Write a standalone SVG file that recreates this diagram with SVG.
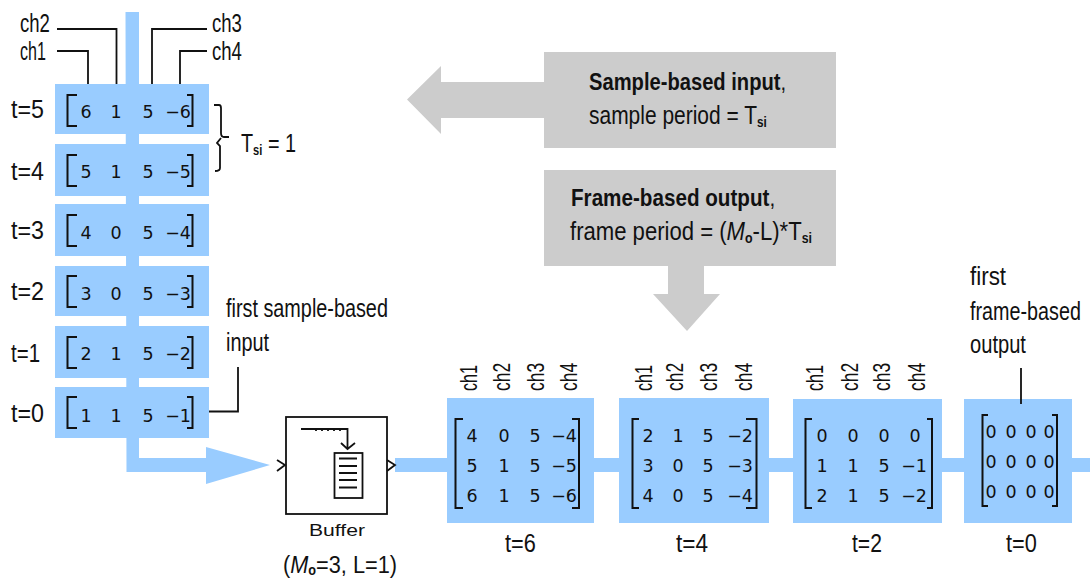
<svg xmlns="http://www.w3.org/2000/svg" width="1090" height="578" viewBox="0 0 1090 578">
<style>
.blue{fill:#99ccff}
.grey{fill:#cccccc}
.ln{fill:none;stroke:#111;stroke-width:1.8}
.br{fill:none;stroke:#111;stroke-width:2}
text{font-family:"Liberation Sans",Arial,sans-serif;fill:#111;font-size:25px}
.n{font-family:"DejaVu Sans",sans-serif;font-size:17.500px;text-anchor:middle}
.e{font-family:"DejaVu Sans",sans-serif;font-size:17.500px;text-anchor:end}
.b{font-size:23px;font-weight:bold}
.sub{font-size:14px;font-weight:bold}
.r{font-size:23px}
</style>
<g id="connectors">
<path class="blue" d="M125.500 12H139V458H206V447L270 465L206 484V472H126.500Z"/>
<rect class="blue" x="395" y="458" width="695" height="14"/>
<path class="grey" d="M544 82H441V66L407 99.500L441 134V118H544Z"/>
<path class="grey" d="M668 266V294H653L687 331L720 294H704V266Z"/>
<path class="ln" d="M57 29H116.500V85M57 51H88V85M207 29H152V85M207 51H180V85"/>
<path class="ln" d="M238 367V411.500H209M1021 368V404"/>
<path class="ln" d="M214 105H219Q221 105 221 108V133Q221 137 224 137H229M221 138L217 143L220 146V168Q220 171 215 171"/>
</g>
<g id="row-t5"><rect class="blue" x="55" y="84" width="154" height="50"/><path class="br" d="M77 95H67.500V126H77M187 95H192.500V126H187"/><text class="n" x="86" y="118">6</text><text class="n" x="116" y="118">1</text><text class="n" x="148" y="118">5</text><text class="e" x="191" y="118">−6</text><text transform="translate(11 118) scale(.88 1)" textLength="37.500" lengthAdjust="spacingAndGlyphs">t=5</text></g>
<g id="row-t4"><rect class="blue" x="55" y="144" width="154" height="52"/><path class="br" d="M77 155H67.500V186H77M187 155H192.500V186H187"/><text class="n" x="86" y="178">5</text><text class="n" x="116" y="178">1</text><text class="n" x="148" y="178">5</text><text class="e" x="191" y="178">−5</text><text transform="translate(11 180) scale(.88 1)" textLength="37.500" lengthAdjust="spacingAndGlyphs">t=4</text></g>
<g id="row-t3"><rect class="blue" x="55" y="204" width="154" height="52"/><path class="br" d="M77 215H67.500V246H77M187 215H192.500V246H187"/><text class="n" x="86" y="239">4</text><text class="n" x="116" y="239">0</text><text class="n" x="148" y="239">5</text><text class="e" x="191" y="239">−4</text><text transform="translate(11 239) scale(.88 1)" textLength="37.500" lengthAdjust="spacingAndGlyphs">t=3</text></g>
<g id="row-t2"><rect class="blue" x="55" y="266" width="154" height="50"/><path class="br" d="M77 276H67.500V307H77M187 276H192.500V307H187"/><text class="n" x="86" y="300">3</text><text class="n" x="116" y="300">0</text><text class="n" x="148" y="300">5</text><text class="e" x="191" y="300">−3</text><text transform="translate(11 300) scale(.88 1)" textLength="37.500" lengthAdjust="spacingAndGlyphs">t=2</text></g>
<g id="row-t1"><rect class="blue" x="55" y="326" width="154" height="52"/><path class="br" d="M77 337H67.500V368H77M187 337H192.500V368H187"/><text class="n" x="86" y="360">2</text><text class="n" x="116" y="360">1</text><text class="n" x="148" y="360">5</text><text class="e" x="191" y="360">−2</text><text transform="translate(11 362) scale(.88 1)" textLength="33" lengthAdjust="spacingAndGlyphs">t=1</text></g>
<g id="row-t0"><rect class="blue" x="55" y="387" width="154" height="51"/><path class="br" d="M77 397H67.500V428H77M187 397H192.500V428H187"/><text class="n" x="86" y="422">1</text><text class="n" x="116" y="422">1</text><text class="n" x="148" y="422">5</text><text class="e" x="191" y="422">−1</text><text transform="translate(11 422) scale(.88 1)" textLength="37.500" lengthAdjust="spacingAndGlyphs">t=0</text></g>
<g id="labels">
<text transform="translate(20 32) scale(.88 1)" textLength="34" lengthAdjust="spacingAndGlyphs">ch2</text>
<text transform="translate(20 60) scale(.88 1)" textLength="29.500" lengthAdjust="spacingAndGlyphs">ch1</text>
<text transform="translate(212 32) scale(.88 1)" textLength="34" lengthAdjust="spacingAndGlyphs">ch3</text>
<text transform="translate(212 60) scale(.88 1)" textLength="34" lengthAdjust="spacingAndGlyphs">ch4</text>
<text transform="translate(241 152) scale(.88 1)" textLength="62.500" lengthAdjust="spacingAndGlyphs">T<tspan class="sub" dy="3">si</tspan><tspan dy="-3"> = 1</tspan></text>
<text transform="translate(226 317) scale(.88 1)" textLength="184" lengthAdjust="spacingAndGlyphs">first sample-based</text>
<text transform="translate(226 351) scale(.88 1)" textLength="49" lengthAdjust="spacingAndGlyphs">input</text>
<text transform="translate(970 285) scale(.88 1)" textLength="41" lengthAdjust="spacingAndGlyphs">first</text>
<text transform="translate(970 320) scale(.88 1)" textLength="126" lengthAdjust="spacingAndGlyphs">frame-based</text>
<text transform="translate(970 353) scale(.88 1)" textLength="63.600" lengthAdjust="spacingAndGlyphs">output</text>
</g>
<g id="buffer">
<rect x="286" y="417" width="101" height="97" fill="#fff" stroke="#111" stroke-width="1.800"/>
<path class="ln" d="M277 460L285 465L277 471M387 460L395 465L387 471"/>
<path class="ln" d="M301 429H347.500V449M341 443L347.500 449L355 443"/>
<path class="ln" d="M316 429V431M322 429V431M328 429V431M334 429V431M340 429V431"/>
<rect x="334.500" y="453" width="28" height="45" fill="#fff" stroke="#111" stroke-width="1.800"/>
<path class="ln" d="M339 458.500H357M339 466H357M339 473H357M339 480H357M339 487.500H357"/>
<text x="309" y="536" style="font-size:16px" textLength="56" lengthAdjust="spacingAndGlyphs">Buffer</text>
<text transform="translate(283 573) scale(.88 1)" style="font-size:24px" textLength="129.500" lengthAdjust="spacingAndGlyphs">(<tspan font-style="italic">M</tspan><tspan class="sub" dy="2">o</tspan><tspan dy="-2">=3, L=1)</tspan></text>
</g>
<g id="note-sample">
<rect class="grey" x="544" y="52" width="292" height="96"/>
<text class="b" transform="translate(589 90) scale(.88 1)" textLength="224" lengthAdjust="spacingAndGlyphs">Sample-based input<tspan font-weight="normal">,</tspan></text>
<text transform="translate(589 124) scale(.88 1)" textLength="202" lengthAdjust="spacingAndGlyphs">sample period = T<tspan class="sub" dy="3">si</tspan></text>
</g>
<g id="note-frame">
<rect class="grey" x="544" y="170" width="292" height="96"/>
<text class="b" transform="translate(571 206) scale(.88 1)" textLength="232" lengthAdjust="spacingAndGlyphs">Frame-based output<tspan font-weight="normal">,</tspan></text>
<text transform="translate(570 240) scale(.88 1)" textLength="275" lengthAdjust="spacingAndGlyphs">frame period = (<tspan font-style="italic">M</tspan><tspan class="sub" dy="3">o</tspan><tspan dy="-3">-L)*T</tspan><tspan class="sub" dy="3">si</tspan></text>
</g>
<g id="frame-t6">
<rect class="blue" x="447" y="398" width="147" height="125"/>
<path class="br" d="M463 419H455.500V508H463M572 419H579V508H572"/>
<text class="n" x="472" y="442">4</text><text class="n" x="504" y="442">0</text><text class="n" x="535" y="442">5</text><text class="e" x="577" y="442">−4</text>
<text class="n" x="472" y="472">5</text><text class="n" x="504" y="472">1</text><text class="n" x="535" y="472">5</text><text class="e" x="577" y="472">−5</text>
<text class="n" x="472" y="502">6</text><text class="n" x="504" y="502">1</text><text class="n" x="535" y="502">5</text><text class="e" x="577" y="502">−6</text>
<text class="r" transform="translate(477 391) rotate(-90) scale(.88 1)" textLength="29.500" lengthAdjust="spacingAndGlyphs">ch1</text>
<text class="r" transform="translate(510 391) rotate(-90) scale(.88 1)" textLength="32" lengthAdjust="spacingAndGlyphs">ch2</text>
<text class="r" transform="translate(544 391) rotate(-90) scale(.88 1)" textLength="32" lengthAdjust="spacingAndGlyphs">ch3</text>
<text class="r" transform="translate(577 391) rotate(-90) scale(.88 1)" textLength="32" lengthAdjust="spacingAndGlyphs">ch4</text>
<text transform="translate(505 552) scale(.88 1)" textLength="35" lengthAdjust="spacingAndGlyphs">t=6</text>
</g>
<g id="frame-t4">
<rect class="blue" x="619" y="398" width="150" height="125"/>
<path class="br" d="M639 419H632.500V508H639M746 419H756.500V508H746"/>
<text class="n" x="648" y="442">2</text><text class="n" x="678" y="442">1</text><text class="n" x="708" y="442">5</text><text class="e" x="753" y="442">−2</text>
<text class="n" x="648" y="472">3</text><text class="n" x="678" y="472">0</text><text class="n" x="708" y="472">5</text><text class="e" x="753" y="472">−3</text>
<text class="n" x="648" y="502">4</text><text class="n" x="678" y="502">0</text><text class="n" x="708" y="502">5</text><text class="e" x="753" y="502">−4</text>
<text class="r" transform="translate(652 391) rotate(-90) scale(.88 1)" textLength="29.500" lengthAdjust="spacingAndGlyphs">ch1</text>
<text class="r" transform="translate(683 391) rotate(-90) scale(.88 1)" textLength="32" lengthAdjust="spacingAndGlyphs">ch2</text>
<text class="r" transform="translate(717 391) rotate(-90) scale(.88 1)" textLength="32" lengthAdjust="spacingAndGlyphs">ch3</text>
<text class="r" transform="translate(752 391) rotate(-90) scale(.88 1)" textLength="32" lengthAdjust="spacingAndGlyphs">ch4</text>
<text transform="translate(676 552) scale(.88 1)" textLength="36.400" lengthAdjust="spacingAndGlyphs">t=4</text>
</g>
<g id="frame-t2">
<rect class="blue" x="793" y="399" width="149" height="124"/>
<path class="br" d="M812 419H805.500V508H812M927 419H932V508H927"/>
<text class="n" x="822" y="442">0</text><text class="n" x="853" y="442">0</text><text class="n" x="884" y="442">0</text><text class="n" x="915" y="442">0</text>
<text class="n" x="822" y="472">1</text><text class="n" x="853" y="472">1</text><text class="n" x="884" y="472">5</text><text class="e" x="927" y="472">−1</text>
<text class="n" x="822" y="502">2</text><text class="n" x="853" y="502">1</text><text class="n" x="884" y="502">5</text><text class="e" x="927" y="502">−2</text>
<text class="r" transform="translate(823 391) rotate(-90) scale(.88 1)" textLength="29.500" lengthAdjust="spacingAndGlyphs">ch1</text>
<text class="r" transform="translate(858 391) rotate(-90) scale(.88 1)" textLength="32" lengthAdjust="spacingAndGlyphs">ch2</text>
<text class="r" transform="translate(890 391) rotate(-90) scale(.88 1)" textLength="32" lengthAdjust="spacingAndGlyphs">ch3</text>
<text class="r" transform="translate(925 391) rotate(-90) scale(.88 1)" textLength="32" lengthAdjust="spacingAndGlyphs">ch4</text>
<text transform="translate(852 552) scale(.88 1)" textLength="34" lengthAdjust="spacingAndGlyphs">t=2</text>
</g>
<g id="frame-t0">
<rect class="blue" x="964" y="399" width="108" height="124"/>
<path class="ln" d="M1021 399V404"/>
<path class="br" d="M988 415H982.500V506H988M1052 415H1057V506H1052"/>
<text class="n" x="991" y="438">0</text><text class="n" x="1011" y="438">0</text><text class="n" x="1031" y="438">0</text><text class="n" x="1049" y="438">0</text>
<text class="n" x="991" y="468">0</text><text class="n" x="1011" y="468">0</text><text class="n" x="1031" y="468">0</text><text class="n" x="1049" y="468">0</text>
<text class="n" x="991" y="498">0</text><text class="n" x="1011" y="498">0</text><text class="n" x="1031" y="498">0</text><text class="n" x="1049" y="498">0</text>
<text transform="translate(1006 552) scale(.88 1)" textLength="35" lengthAdjust="spacingAndGlyphs">t=0</text>
</g>
</svg>
